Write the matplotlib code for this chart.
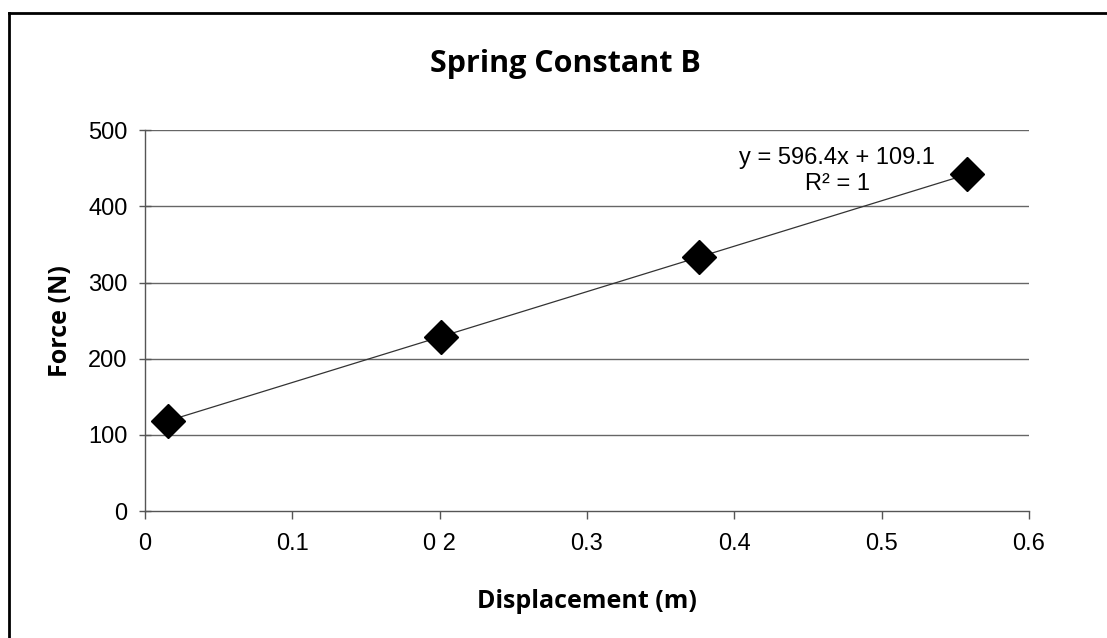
import matplotlib.pyplot as plt
from matplotlib.lines import Line2D

# values
displacement = [0.0156, 0.201, 0.376, 0.558]
force = [118.4, 229.0, 333.4, 442.0]
slope = 596.4
intercept = 109.1
x_ticks = [0, 0.1, 0.2, 0.3, 0.4, 0.5, 0.6]
x_tick_labels = ["0", "0.1", "0 2", "0.3", "0.4", "0.5", "0.6"]
y_ticks = [0, 100, 200, 300, 400, 500]

fig = plt.figure(figsize=(11.07, 6.38), dpi=100)
ax = fig.add_axes([0.131, 0.199, 0.7985, 0.597])

# gridlines
for yv in y_ticks[1:]:
    ax.axhline(yv, color="#666666", lw=1.0, zorder=1)

# trendline across the data range
xs = [displacement[0], displacement[-1]]
ax.plot(xs, [slope * v + intercept for v in xs], color="#333333", lw=0.9, zorder=2)
ax.plot(displacement, force, linestyle="none", marker="D", markersize=17,
        color="black", zorder=3)

ax.set_xlim(0, 0.6)
ax.set_ylim(0, 500)
ax.set_xticks(x_ticks)
ax.set_xticklabels(x_tick_labels, fontsize=17, family="Liberation Sans")
ax.set_yticks(y_ticks)
ax.set_yticklabels([str(v) for v in y_ticks], fontsize=17, family="Liberation Sans")
ax.tick_params(axis="y", direction="inout", length=9, width=1, color="#555555", pad=8)
ax.tick_params(axis="x", direction="out", length=6, width=1, color="#555555", pad=10)

for s in ["top", "right"]:
    ax.spines[s].set_visible(False)
for s in ["left", "bottom"]:
    ax.spines[s].set_color("#555555")
    ax.spines[s].set_linewidth(1.0)

ax.set_xlabel("Displacement (m)", fontsize=18, fontweight="bold",
              family="Open Sans", labelpad=24)
ax.set_ylabel("Force (N)", fontsize=18, fontweight="bold",
              family="Open Sans", labelpad=11)

fig.text(0.511, 0.887, "Spring Constant B", ha="center", va="baseline",
         fontsize=22, fontweight="bold", family="Open Sans")

ax.text(0.470, 464, "y = 596.4x + 109.1", ha="center", va="center",
        fontsize=17, family="Liberation Sans")
ax.text(0.470, 429, "R² = 1", ha="center", va="center",
        fontsize=17, family="Liberation Sans")

# scanned frame: left and top edges only
fig.add_artist(Line2D([0.0081, 0.0081], [0.0, 0.98], transform=fig.transFigure,
                      color="black", lw=2))
fig.add_artist(Line2D([0.0081, 1.0], [0.98, 0.98], transform=fig.transFigure,
                      color="black", lw=2))

fig.savefig("out.png", dpi=100)
